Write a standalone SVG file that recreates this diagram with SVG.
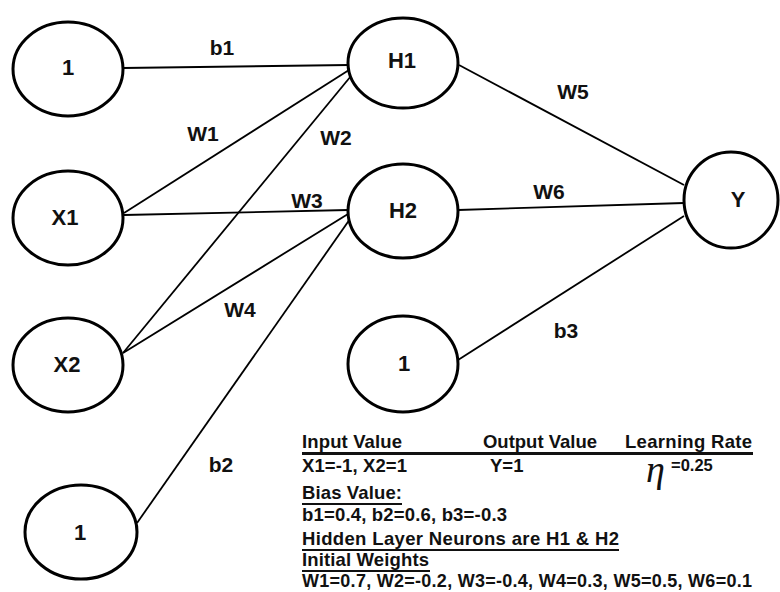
<svg xmlns="http://www.w3.org/2000/svg" width="780" height="592" viewBox="0 0 780 592">
<style>
.node{fill:#fff;stroke:#000;stroke-width:3}
.edge{stroke:#000;stroke-width:1.8;fill:none}
.lbl{font-family:"Liberation Sans",Arial,sans-serif;font-weight:bold;font-size:21px;fill:#111;text-anchor:middle}
.nl{font-size:22px}
.tbl{font-family:"Liberation Sans",Arial,sans-serif;font-weight:bold;font-size:18.5px;fill:#111}
.ul{stroke:#111;stroke-width:2.2}
</style>
<rect width="780" height="592" fill="#fff"/>
<g id="connectors">
<line class="edge" x1="123" y1="68" x2="349" y2="65"/>
<line class="edge" x1="124" y1="213" x2="349" y2="70"/>
<line class="edge" x1="123" y1="353" x2="351" y2="76"/>
<line class="edge" x1="124" y1="215" x2="348" y2="210"/>
<line class="edge" x1="123" y1="353" x2="348" y2="214"/>
<line class="edge" x1="137" y1="523" x2="350" y2="219"/>
<line class="edge" x1="459" y1="65" x2="684" y2="185"/>
<line class="edge" x1="458" y1="210" x2="684" y2="203"/>
<line class="edge" x1="458" y1="360" x2="684" y2="216"/>
<text class="lbl" x="222" y="55">b1</text>
<text class="lbl" x="203" y="141">W1</text>
<text class="lbl" x="336" y="145">W2</text>
<text class="lbl" x="307" y="208">W3</text>
<text class="lbl" x="240" y="317">W4</text>
<text class="lbl" x="221" y="472">b2</text>
<text class="lbl" x="573" y="99">W5</text>
<text class="lbl" x="549" y="199">W6</text>
<text class="lbl" x="566" y="338">b3</text>
</g>
<g id="n_bias1"><ellipse class="node" cx="68" cy="69" rx="55" ry="47"/><text class="lbl nl" x="68" y="75">1</text></g>
<g id="n_x1"><ellipse class="node" cx="68" cy="218" rx="55" ry="47"/><text class="lbl nl" x="65" y="225">X1</text></g>
<g id="n_x2"><ellipse class="node" cx="68" cy="365" rx="55" ry="47"/><text class="lbl nl" x="67" y="372">X2</text></g>
<g id="n_bias2"><ellipse class="node" cx="81" cy="532" rx="56" ry="47"/><text class="lbl nl" x="80" y="540">1</text></g>
<g id="n_h1"><ellipse class="node" cx="403" cy="63" rx="55" ry="45"/><text class="lbl nl" x="402" y="68">H1</text></g>
<g id="n_h2"><ellipse class="node" cx="403" cy="211" rx="55" ry="47"/><text class="lbl nl" x="403" y="218">H2</text></g>
<g id="n_bias3"><ellipse class="node" cx="403" cy="364" rx="55" ry="48"/><text class="lbl nl" x="404" y="371">1</text></g>
<g id="n_y"><ellipse class="node" cx="731" cy="200" rx="47" ry="48"/><text class="lbl nl" x="738" y="207">Y</text></g>
<g id="info">
<text class="tbl" x="302" y="448" textLength="100">Input Value</text>
<text class="tbl" x="483" y="448" textLength="114">Output Value</text>
<text class="tbl" x="625" y="448" textLength="127">Learning Rate</text>
<line class="ul" x1="302" y1="453.5" x2="753" y2="453.5" style="stroke-width:2.8"/>
<text class="tbl" x="302" y="472" textLength="105">X1=-1, X2=1</text>
<text class="tbl" x="490" y="472">Y=1</text>
<text x="646" y="482" style="font-family:'Liberation Serif','Times New Roman',serif;font-style:italic;font-size:38px;fill:#111">η</text>
<text class="tbl" x="671" y="471" style="font-size:16.5px">=0.25</text>
<text class="tbl" x="302" y="499" textLength="100">Bias Value:</text>
<line class="ul" x1="302" y1="504" x2="402" y2="504"/>
<text class="tbl" x="302" y="521" textLength="205">b1=0.4, b2=0.6, b3=-0.3</text>
<text class="tbl" x="302" y="545" textLength="317">Hidden Layer Neurons are H1 &amp; H2</text>
<line class="ul" x1="302" y1="550" x2="619" y2="550"/>
<text class="tbl" x="302" y="566" textLength="127">Initial Weights</text>
<line class="ul" x1="302" y1="571" x2="430" y2="571"/>
<text class="tbl" x="302" y="587" textLength="450" style="font-size:18px">W1=0.7, W2=-0.2, W3=-0.4, W4=0.3, W5=0.5, W6=0.1</text>
</g>
</svg>
